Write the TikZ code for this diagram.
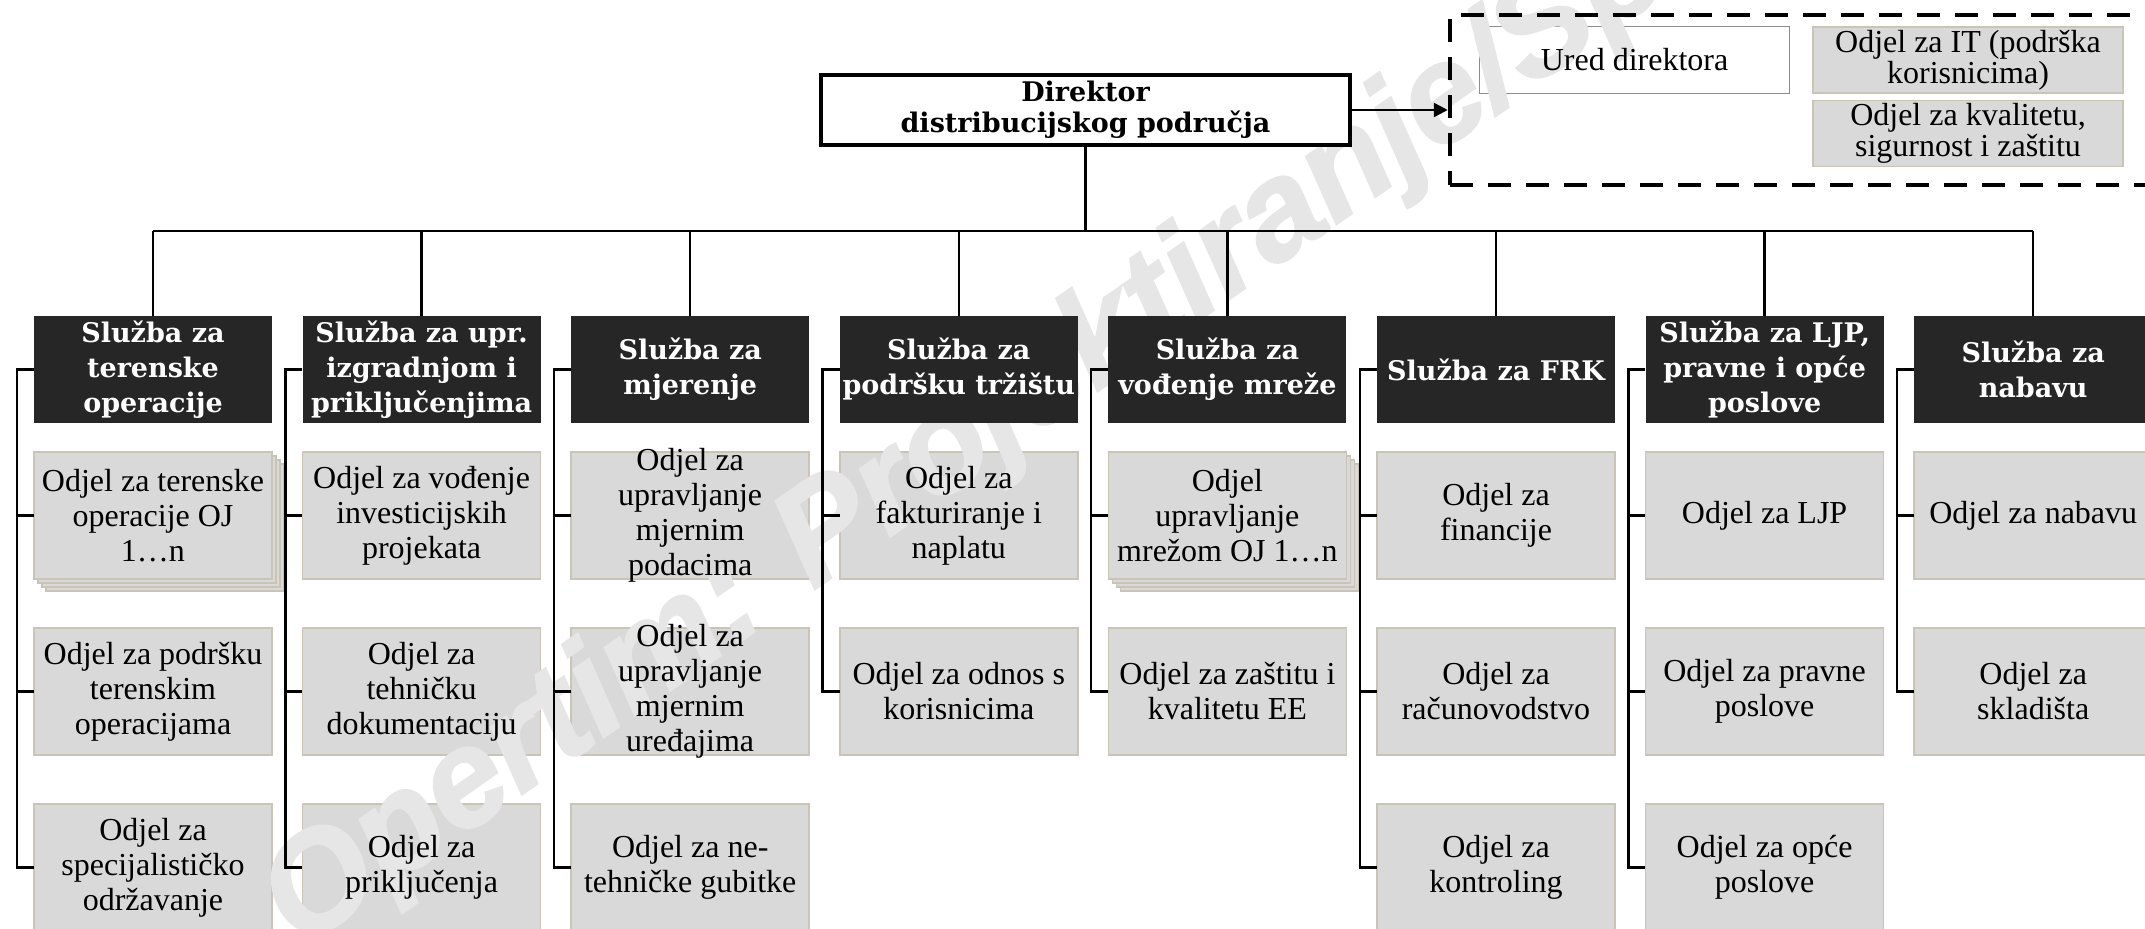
\documentclass[tikz,border=0pt]{standalone}
\usepackage{fontspec}
\setmainfont{Liberation Serif}
\newfontfamily\djvserif{DejaVu Serif}
\newfontface\wmface{Liberation Sans Bold Italic}[FakeBold=1.5]
\usetikzlibrary{arrows.meta}
\pgfdeclarelayer{background}
\pgfdeclarelayer{wm}
\pgfsetlayers{background,wm,main}
\definecolor{darkbox}{HTML}{262626}
\definecolor{deptgray}{HTML}{D9D9D9}
\definecolor{deptedge}{HTML}{C9C4B6}
\definecolor{uredge}{HTML}{8C8C8C}
\definecolor{wmgray}{HTML}{E6E6E6}
\tikzset{
  svc/.style={fill=darkbox, text=white, font=\djvserif\bfseries\fontsize{27}{35}\selectfont,
    align=center, minimum width=238pt, minimum height=107pt, inner sep=0pt},
  dept/.style={font=\fontsize{32}{35}\selectfont, align=center,
    minimum width=238pt, minimum height=127pt, inner sep=0pt},
  deptfill/.style={fill=deptgray, draw=deptedge, line width=1.5pt},
  topbox/.style={font=\fontsize{32}{31}\selectfont, align=center,
    minimum width=310pt, minimum height=66pt, inner sep=0pt},
  director/.style={draw, line width=4pt, fill=white,
    font=\djvserif\bfseries\fontsize{27}{31}\selectfont, align=center,
    minimum width=529pt, minimum height=70pt, inner sep=0pt},
  grpbox/.style={draw, line width=4.5pt, dash pattern=on 23pt off 15pt,
    minimum width=730pt, minimum height=170pt, inner sep=0pt},
  conn/.style={line width=2.5pt},
  watermark/.style={font=\wmface\fontsize{138}{138}\selectfont,
    text=wmgray, rotate=35, anchor=base west, inner sep=0pt},
}
\begin{document}
\begin{tikzpicture}[x=1pt,y=-1pt]
\useasboundingbox (0,0) rectangle (2145,929);
\coordinate (bus) at (0,231);

% director and staff group
\node[director] (dir) at (1085.5,110) {Direktor\\distribucijskog područja};
\node[grpbox] (grp) at (1815,100) {};
\node[topbox] (ured) at (1634.5,60) {Ured direktora};
\node[topbox] (it) at (1968,60) {Odjel za IT (podrška\\korisnicima)};
\node[topbox] (kval) at (1968,133.5) {Odjel za kvalitetu,\\sigurnost i zaštitu};
\draw[conn, -{Triangle[length=14pt,width=14pt]}] (dir.east) -- (dir.east -| grp.west);

% services
\node[svc] (s1) at (153,369.5) {Služba za\\terenske\\operacije};
\node[svc] (s2) at (421.6,369.5) {Služba za upr.\\izgradnjom i\\priključenjima};
\node[svc] (s3) at (690.2,369.5) {Služba za\\mjerenje};
\node[svc] (s4) at (958.8,369.5) {Služba za\\podršku tržištu};
\node[svc] (s5) at (1227.4,369.5) {Služba za\\vođenje mreže};
\node[svc] (s6) at (1496,369.5) {Služba za FRK};
\node[svc] (s7) at (1764.6,369.5) {Služba za LJP,\\pravne i opće\\poslove};
\node[svc] (s8) at (2033.2,369.5) {Služba za\\nabavu};

% departments
\node[dept] (d11) at (153,515.5) {Odjel za terenske\\operacije OJ\\1…n};
\node[dept] (d12) at (153,691.5) {Odjel za podršku\\terenskim\\operacijama};
\node[dept] (d13) at (153,867.5) {Odjel za\\specijalističko\\održavanje};
\node[dept] (d21) at (421.6,515.5) {Odjel za vođenje\\investicijskih\\projekata};
\node[dept] (d22) at (421.6,691.5) {Odjel za\\tehničku\\dokumentaciju};
\node[dept] (d23) at (421.6,867.5) {Odjel za\\priključenja};
\node[dept] (d31) at (690.2,515.5) {Odjel za\\upravljanje\\mjernim\\podacima};
\node[dept] (d32) at (690.2,691.5) {Odjel za\\upravljanje\\mjernim\\uređajima};
\node[dept] (d33) at (690.2,867.5) {Odjel za ne-\\tehničke gubitke};
\node[dept] (d41) at (958.8,515.5) {Odjel za\\fakturiranje i\\naplatu};
\node[dept] (d42) at (958.8,691.5) {Odjel za odnos s\\korisnicima};
\node[dept] (d51) at (1227.4,515.5) {Odjel\\upravljanje\\mrežom OJ 1…n};
\node[dept] (d52) at (1227.4,691.5) {Odjel za zaštitu i\\kvalitetu EE};
\node[dept] (d61) at (1496,515.5) {Odjel za\\financije};
\node[dept] (d62) at (1496,691.5) {Odjel za\\računovodstvo};
\node[dept] (d63) at (1496,867.5) {Odjel za\\kontroling};
\node[dept] (d71) at (1764.6,515.5) {Odjel za LJP};
\node[dept] (d72) at (1764.6,691.5) {Odjel za pravne\\poslove};
\node[dept] (d73) at (1764.6,867.5) {Odjel za opće\\poslove};
\node[dept] (d81) at (2033.2,515.5) {Odjel za nabavu};
\node[dept] (d82) at (2033.2,691.5) {Odjel za\\skladišta};

% tree connectors
\draw[conn] (dir.south) -- (dir.south |- bus);
\draw[conn] (s1.north |- bus) -- (s8.north |- bus);
\foreach \c in {1,...,8} \draw[conn] (s\c.north) -- (s\c.north |- bus);
\foreach \c/\last in {1/3,2/3,3/3,4/2,5/2,6/3,7/3,8/2} {
  \draw[conn] (s\c.west) -- ++(-17,0) |- (d\c\last.west);
  \foreach \r in {1,...,\last} \draw[conn] (d\c\r.west) -- ++(-17,0);
}

% box fills behind the texts
\begin{pgfonlayer}{background}
  \foreach \n in {d11,d51}
    \foreach \o in {12,8,4}
      \filldraw[deptfill] ([shift={(\o-119,\o-63.5)}]\n.center) rectangle ([shift={(\o+119,\o+63.5)}]\n.center);
  \foreach \n in {d11,d12,d13,d21,d22,d23,d31,d32,d33,d41,d42,d51,d52,d61,d62,d63,d71,d72,d73,d81,d82}
    \filldraw[deptfill] ([shift={(-119,-63.5)}]\n.center) rectangle ([shift={(119,63.5)}]\n.center);
  \filldraw[fill=white, draw=uredge, line width=1.2pt] (ured.south west) rectangle (ured.north east);
  \filldraw[deptfill] (it.south west) rectangle (it.north east);
  \filldraw[deptfill] (kval.south west) rectangle (kval.north east);
\end{pgfonlayer}

% watermark, between the box fills and the texts
\begin{pgfonlayer}{wm}
  \node[watermark] (wmark) at (300,950) {Opertim: Projektiranje/Sp};
\end{pgfonlayer}
\end{tikzpicture}
\end{document}
